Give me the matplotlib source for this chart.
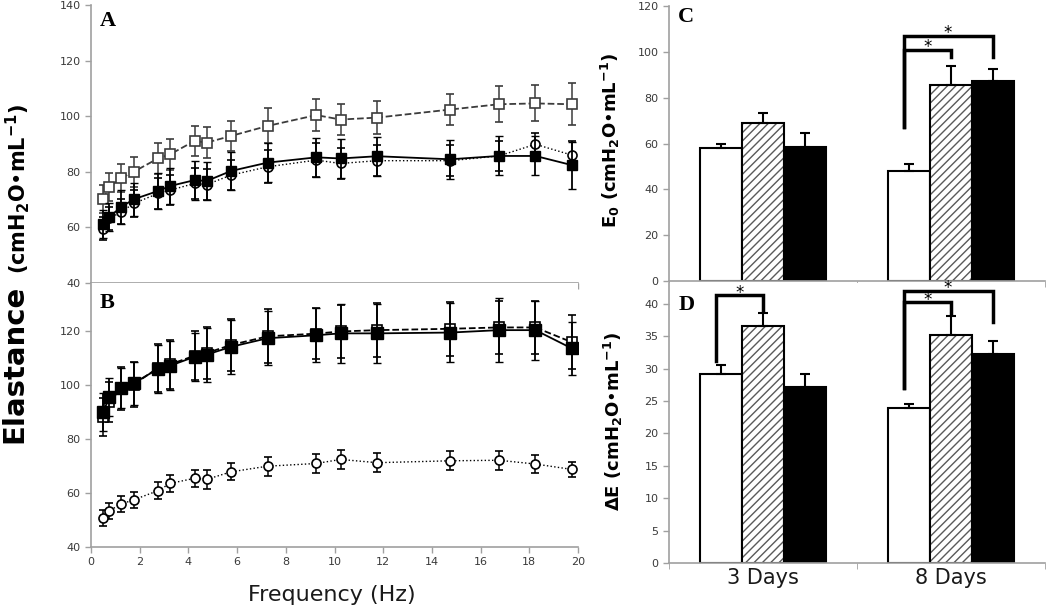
import numpy as np
import matplotlib.pyplot as plt

plt.rcParams['font.family'] = ['DejaVu Sans']

# Frequencies (Hz)
freq = [0.5, 0.75, 1.25, 1.75, 2.75, 3.25, 4.25, 4.75, 5.75, 7.25,
        9.25, 10.25, 11.75, 14.75, 16.75, 18.25, 19.75]

# Panel A
a_open = [70.1, 74.6, 77.8, 80.0, 84.8, 86.3, 91.1, 90.5, 92.9, 96.5,
          100.4, 98.8, 99.5, 102.4, 104.3, 104.6, 104.3]
a_open_err = [5, 5, 5, 5.5, 5.5, 5.5, 5.5, 5.5, 5.5, 6.3,
              5.8, 5.5, 5.8, 5.6, 6.5, 6.5, 7.5]
a_filled = [61.1, 63.8, 67.4, 70.1, 73.1, 74.9, 77.0, 76.7, 80.3, 83.3,
            85.2, 84.8, 85.6, 84.5, 85.7, 85.7, 82.4]
a_filled_err = [5, 5, 6, 6, 6.5, 6.5, 7, 7, 7, 7,
                7, 7, 7, 7, 7, 7, 8.5]
a_circ = [59.6, 63.2, 65.6, 68.6, 72.2, 73.4, 75.8, 75.4, 78.8, 81.8,
          84.2, 83.0, 84.0, 84.0, 85.7, 89.9, 86.0]
a_circ_err = [4, 4, 4.5, 5, 5.5, 5.5, 5.5, 5.5, 5.5, 6,
              6, 5.5, 5.5, 5.5, 5.5, 4, 5]

# Panel B
b_filled = [90.1, 95.6, 99.1, 100.8, 106.1, 107.3, 110.6, 111.4, 114.3, 117.5,
            118.6, 119.3, 119.3, 119.6, 120.5, 120.5, 113.7]
b_filled_err = [7, 7, 7.5, 8, 9, 9, 9, 10, 10, 10,
                10, 11, 11, 11, 12, 11, 10]
b_open = [88.2, 93.8, 98.7, 100.3, 106.5, 107.8, 111.0, 112.0, 115.0, 118.2,
          119.2, 120.0, 120.5, 121.0, 121.5, 121.5, 116.0]
b_open_err = [7, 7.5, 8, 8.5, 9, 9, 9, 9.5, 9.5, 10,
              9.5, 10, 10, 10, 10, 10, 10]
b_circ = [50.7, 53.5, 56.0, 57.5, 60.9, 63.6, 65.5, 65.1, 67.9, 70.0,
          71.0, 72.5, 71.3, 72.0, 72.2, 70.8, 68.8]
b_circ_err = [3, 3, 3, 3, 3.2, 3.2, 3.2, 3.5, 3.2, 3.5,
              3.5, 3.5, 3.5, 3.5, 3.5, 3.5, 2.8]

# Panels C and D
groups = ['3 Days', '8 Days']
e0_white = [57.9, 48.0]
e0_white_err = [1.9, 3.1]
e0_hatch = [68.8, 85.5]
e0_hatch_err = [4.7, 8.5]
e0_black = [58.6, 87.4]
e0_black_err = [6.1, 5.3]

de_white = [29.1, 23.9]
de_white_err = [1.5, 0.7]
de_hatch = [36.6, 35.1]
de_hatch_err = [1.9, 3.0]
de_black = [27.1, 32.3]
de_black_err = [2.1, 1.9]

# significance brackets: (group, bar i, bar j, left leg bottom, top, right leg bottom)
e0_brackets = [(1, 0, 1, 67.3, 101.0, 97.9), (1, 0, 2, 67.3, 106.9, 97.9)]
de_brackets = [(0, 0, 1, 31.1, 41.3, 38.9), (1, 0, 1, 27.0, 40.2, 38.6),
               (1, 0, 2, 27.0, 42.0, 37.2)]

SPINE = '#a0a0a0'
TICKTXT = '#3a3a3a'

fig = plt.figure(figsize=(10.5, 6.12), dpi=100)
axA = fig.add_axes([0.0867, 0.5376, 0.4638, 0.4542])
axB = fig.add_axes([0.0867, 0.1062, 0.4638, 0.4314])
axC = fig.add_axes([0.6371, 0.5408, 0.3581, 0.4494])
axD = fig.add_axes([0.6371, 0.0801, 0.3581, 0.4575])


def style_axes(ax):
    ax.spines['top'].set_visible(False)
    ax.spines['right'].set_visible(False)
    for s in ['left', 'bottom']:
        ax.spines[s].set_color(SPINE)
        ax.spines[s].set_linewidth(1.2)
    ax.tick_params(direction='out', length=4, width=1, color=SPINE,
                   labelcolor=TICKTXT, labelsize=8)


# Frequency panels
def freq_panel(ax, open_y, open_err, filled_y, filled_err, circ_y, circ_err,
               open_col, ms_filled):
    ax.errorbar(freq, circ_y, yerr=circ_err, fmt='o', ls=':', lw=1,
                color='black', mfc='white', mec='black', ms=6.5, mew=1.2,
                ecolor='black', elinewidth=1.1, capsize=3, zorder=2)
    ax.errorbar(freq, open_y, yerr=open_err, fmt='s', ls='--', lw=1.3,
                color=open_col, mfc='white', mec=open_col, ms=6.5, mew=1.2,
                ecolor=open_col, elinewidth=1.1, capsize=3, zorder=3)
    ax.errorbar(freq, filled_y, yerr=filled_err, fmt='s', ls='-', lw=1.3,
                color='black', mfc='black', mec='black', ms=ms_filled,
                ecolor='black', elinewidth=1.3, capsize=3, zorder=4)
    ax.set_xlim(0, 20)
    ax.set_xticks(range(0, 21, 2))
    style_axes(ax)


freq_panel(axA, a_open, a_open_err, a_filled, a_filled_err, a_circ, a_circ_err,
           '#3c3c3c', 7)
axA.set_ylim(40, 140)
axA.set_yticks(range(40, 141, 20))
axA.set_xticklabels([])

freq_panel(axB, b_open, b_open_err, b_filled, b_filled_err, b_circ, b_circ_err,
           'black', 8)
axB.set_ylim(40, 138)
axB.set_yticks(range(40, 121, 20))

# Bar panels
x = np.arange(len(groups))
w = 0.222
offs = [-w, 0, w]


def bar_panel(ax, white, white_err, hatch, hatch_err, black, black_err, brackets):
    ax.bar(x + offs[0], white, w, color='white', edgecolor='black', lw=1.5, zorder=2)
    ax.bar(x + offs[1], hatch, w, color='white', edgecolor='#5a5a5a', hatch='////',
           lw=0, zorder=2)
    ax.bar(x + offs[1], hatch, w, fill=False, edgecolor='black', lw=1.5, zorder=2)
    ax.bar(x + offs[2], black, w, color='black', edgecolor='black', lw=1.5, zorder=2)
    for o, vals, err in zip(offs, [white, hatch, black], [white_err, hatch_err, black_err]):
        ax.errorbar(x + o, vals, yerr=[np.zeros(len(vals)), err], fmt='none',
                    ecolor='black', elinewidth=1.5, capsize=3.5, capthick=1.5, zorder=3)
    for g, i, j, lo, top, ro in brackets:
        x0 = g + offs[i] - 0.03
        x1 = g + offs[j]
        ax.plot([x0, x0, x1, x1], [lo, top, top, ro], color='black', lw=2.5,
                solid_joinstyle='miter', zorder=4, clip_on=False)
        ax.annotate('*', ((x0 + x1) / 2, top), xytext=(0, 2), textcoords='offset points',
                    ha='center', va='center', fontsize=12, annotation_clip=False)
    ax.set_xlim(-0.5, 1.5)
    style_axes(ax)
    ax.set_xticks([-0.5, 0.5, 1.5], minor=True)
    ax.set_xticks(x)
    ax.tick_params(axis='x', which='major', length=0)
    ax.tick_params(axis='x', which='minor', direction='out', length=4, color=SPINE)


bar_panel(axC, e0_white, e0_white_err, e0_hatch, e0_hatch_err, e0_black, e0_black_err,
          e0_brackets)
axC.set_ylim(0, 120)
axC.set_yticks(range(0, 121, 20))
axC.set_xticklabels([])

bar_panel(axD, de_white, de_white_err, de_hatch, de_hatch_err, de_black, de_black_err,
          de_brackets)
axD.set_ylim(0, 43.2)
axD.set_yticks(range(0, 41, 5))
axD.set_xticklabels(groups, fontsize=15, color='#1a1a1a')

# Labels
fig.text(0.0133, 0.405, 'Elastance', rotation=90, fontsize=21, fontweight='bold',
         ha='center', va='center')
fig.text(0.0165, 0.692, r'(cmH$_\mathbf{2}$O•mL$^{\mathbf{-1}}$)', rotation=90,
         fontsize=15, fontweight='bold', ha='center', va='center')
fig.text(0.316, 0.027, 'Frequency (Hz)', fontsize=16, ha='center', va='center',
         color='#1a1a1a')
fig.text(0.581, 0.771, r'E$_\mathbf{0}$ (cmH$_\mathbf{2}$O•mL$^{\mathbf{-1}}$)',
         rotation=90, fontsize=13, fontweight='bold', ha='center', va='center')
fig.text(0.584, 0.312, r'ΔE (cmH$_\mathbf{2}$O•mL$^{\mathbf{-1}}$)',
         rotation=90, fontsize=13, fontweight='bold', ha='center', va='center')

for lbl, fx, fy in [('A', 0.095, 0.982), ('B', 0.095, 0.522),
                    ('C', 0.646, 0.988), ('D', 0.646, 0.518)]:
    fig.text(fx, fy, lbl, fontsize=16, fontweight='bold', family='Liberation Serif',
             ha='left', va='top')

fig.savefig('out.png', dpi=100)
